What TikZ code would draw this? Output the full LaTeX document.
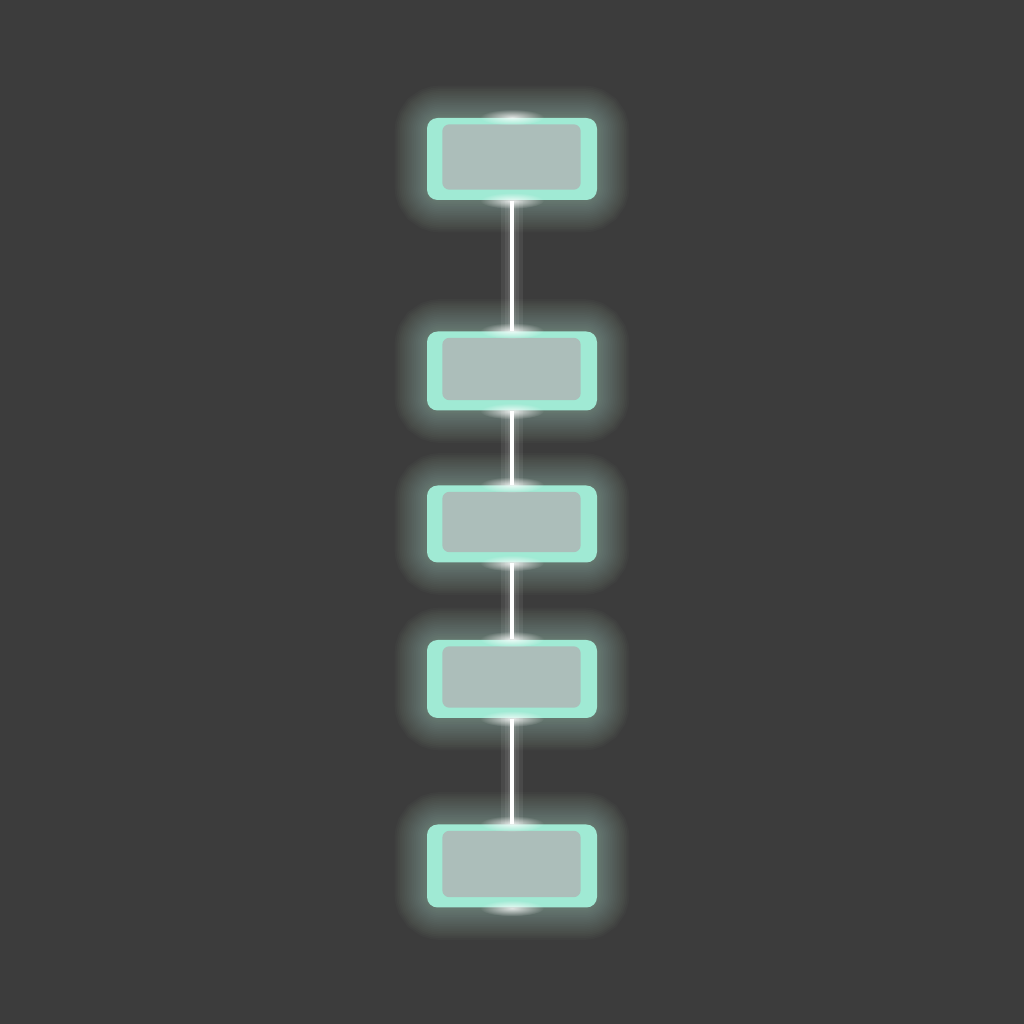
\documentclass[tikz,border=0pt]{standalone}
\usetikzlibrary{calc,backgrounds,fadings}
\definecolor{bgc}{RGB}{60,60,60}
\definecolor{mint}{RGB}{160,234,212}
\definecolor{panelc}{RGB}{172,190,186}
\tikzfading[name=glowspot, inner color=transparent!0, outer color=transparent!100]
\tikzset{
  panel/.style={fill=mint, rounded corners=3pt, minimum width=1.7cm, inner sep=0pt},
  face/.style={fill=panelc, rounded corners=2pt},
  link/.style={white, line width=0.9pt},
  halo/.style={mint!60!white, opacity=0.025, rounded corners=4pt},
  spot/.style={white, opacity=0.8, path fading=glowspot},
}
\begin{document}
\begin{tikzpicture}
	\useasboundingbox (0,0) rectangle (10.24,10.24);
	\node[panel, minimum height=0.82cm] (b1) at (5.12,8.65) {};
	\node[panel, minimum height=0.79cm] (b2) at (5.12,6.53) {};
	\node[panel, minimum height=0.77cm] (b3) at (5.12,5.00) {};
	\node[panel, minimum height=0.78cm] (b4) at (5.12,3.45) {};
	\node[panel, minimum height=0.83cm] (b5) at (5.12,1.58) {};
	% inner faces
	\foreach \n in {b1,b2,b3,b4,b5}
		\fill[face] ($(\n.south west)+(0.16,0.11)$) rectangle ($(\n.north east)+(-0.17,-0.07)$);
	% connectors
	\draw[link] (b1.south) -- (b2.north);
	\draw[link] (b2.south) -- (b3.north);
	\draw[link] (b3.south) -- (b4.north);
	\draw[link] (b4.south) -- (b5.north);
	\foreach \n in {b1,b2,b3,b4,b5} {
		\fill[spot] (\n.north) ellipse (0.32 and 0.08);
		\fill[spot] (\n.south) ellipse (0.32 and 0.08);
	}
	\begin{pgfonlayer}{background}
		\fill[bgc] (0,0) rectangle (10.24,10.24);
		\foreach \n in {b1,b2,b3,b4,b5}
			\foreach \w in {1,2,...,18}
				\draw[halo, line width=\w pt] (\n.south west) rectangle (\n.north east);
		\foreach \w in {2,4,6}
			\draw[white, opacity=0.07, line width=\w pt] (b1.south) -- (b5.north);
	\end{pgfonlayer}
\end{tikzpicture}
\end{document}
